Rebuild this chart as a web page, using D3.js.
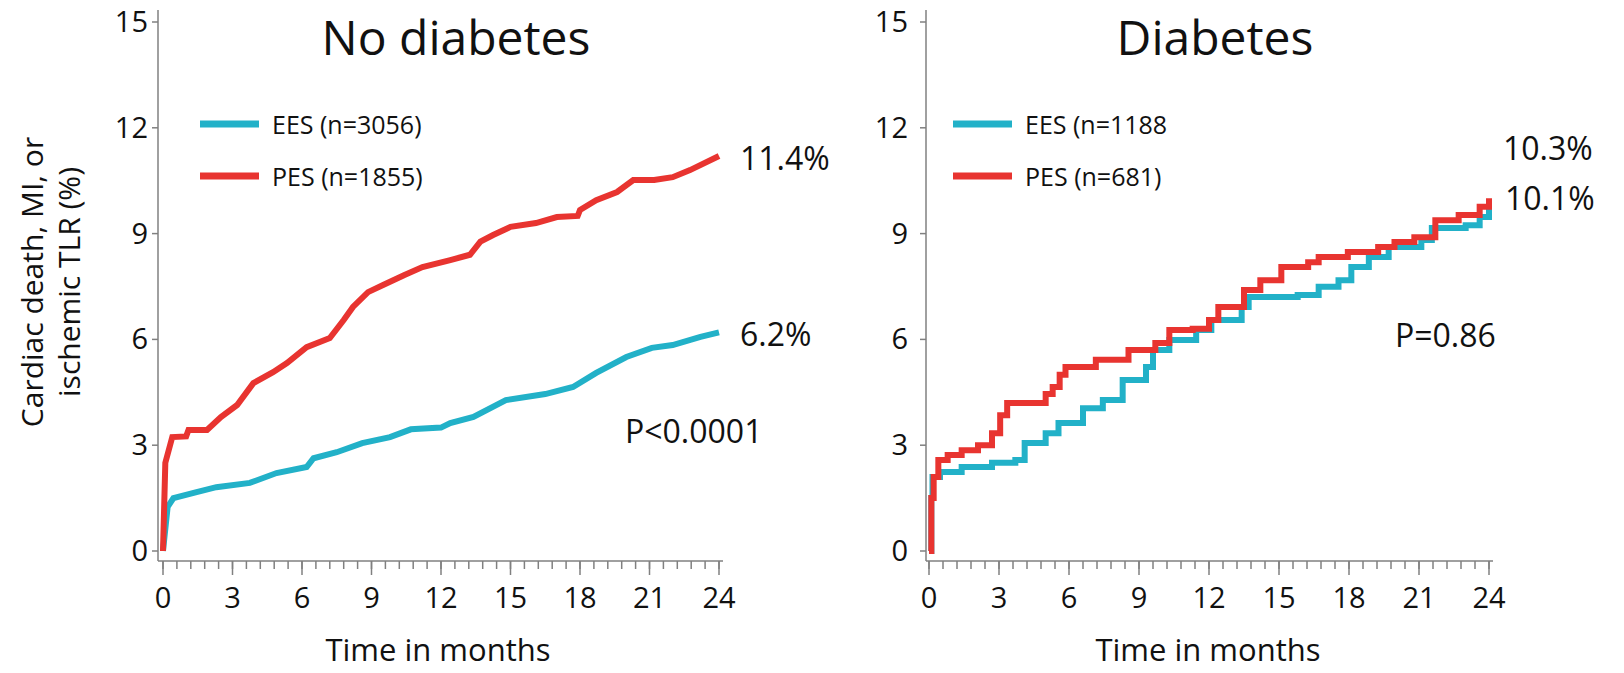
<!DOCTYPE html>
<html>
<head>
<meta charset="utf-8">
<script src="https://cdn.jsdelivr.net/npm/d3@7"></script>
<style>
  body { margin: 0; background: #fff; }
  svg text { font-family: "Open Sans", sans-serif; fill: #111; }
  .axis-line { stroke: #808080; stroke-width: 1.5; }
</style>
</head>
<body>
<svg id="chart" width="1624" height="673"></svg>
<script>
// tick values
const yTicks = [0, 3, 6, 9, 12, 15];
const xTicks = [0, 3, 6, 9, 12, 15, 18, 21, 24];
const xMinorTicks = d3.range(0, 24.01, 0.6);

// No diabetes, EES
const noDmEesTime = [0, 0.2, 0.45, 1.45, 2.3, 3.75, 4.9, 6.2, 6.5, 7.5, 8.6, 9.8, 10.7, 12.0, 12.4, 13.4, 14.8, 16.5, 17.7, 18.7, 20.0, 21.1, 22.0, 23.2, 24.0];
const noDmEesRate = [0, 1.25, 1.5, 1.67, 1.81, 1.93, 2.21, 2.38, 2.63, 2.8, 3.06, 3.23, 3.45, 3.5, 3.63, 3.8, 4.28, 4.45, 4.65, 5.05, 5.5, 5.76, 5.84, 6.07, 6.2];
// No diabetes, PES
const noDmPesTime = [0, 0.1, 0.4, 1.0, 1.1, 1.9, 2.5, 3.2, 3.9, 4.75, 5.35, 6.2, 7.2, 7.8, 8.2, 8.85, 9.5, 10.4, 11.2, 12.4, 13.25, 13.7, 14.25, 15.0, 16.1, 17.0, 17.9, 18.0, 18.7, 19.6, 20.3, 21.2, 22.0, 22.75, 24.0];
const noDmPesRate = [0, 2.5, 3.23, 3.25, 3.43, 3.43, 3.8, 4.14, 4.76, 5.07, 5.33, 5.78, 6.04, 6.55, 6.92, 7.34, 7.54, 7.82, 8.05, 8.25, 8.4, 8.77, 8.96, 9.19, 9.3, 9.47, 9.5, 9.67, 9.95, 10.18, 10.52, 10.52, 10.6, 10.8, 11.2];
// Diabetes, EES
const dmEesTime = [0, 0.1, 0.15, 0.47, 1.4, 2.7, 3.7, 4.1, 5.0, 5.55, 6.6, 7.45, 8.3, 9.3, 9.6, 10.3, 11.45, 12.1, 13.4, 13.7, 15.8, 16.7, 17.55, 18.1, 18.85, 19.7, 21.1, 21.55, 23.0, 23.6, 24.0];
const dmEesRate = [0, 1.5, 2.1, 2.24, 2.38, 2.5, 2.58, 3.06, 3.34, 3.63, 4.05, 4.28, 4.85, 5.22, 5.7, 5.98, 6.27, 6.55, 6.92, 7.2, 7.26, 7.49, 7.68, 8.05, 8.34, 8.62, 8.82, 9.16, 9.24, 9.47, 9.87];
// Diabetes, PES
const dmPesTime = [0, 0.1, 0.2, 0.4, 0.8, 1.4, 2.1, 2.7, 3.05, 3.35, 5.0, 5.3, 5.6, 5.85, 7.15, 8.55, 9.7, 10.3, 11.3, 12.0, 12.4, 13.5, 14.2, 15.1, 16.25, 16.7, 17.95, 19.25, 19.95, 20.8, 21.7, 22.7, 23.6, 24.0];
const dmPesRate = [0, 1.5, 2.1, 2.58, 2.72, 2.86, 3.0, 3.34, 3.85, 4.2, 4.45, 4.65, 5.0, 5.22, 5.42, 5.7, 5.9, 6.27, 6.3, 6.55, 6.92, 7.4, 7.68, 8.05, 8.19, 8.34, 8.48, 8.62, 8.76, 8.9, 9.38, 9.53, 9.76, 10.0];

const eesColor = '#22b1c8';
const pesColor = '#e83430';

const panels = [
    {
        title: 'No diabetes', titleX: 456,
        axisX: 158, x0: 163, x1: 719, tickLabelX: 148,
        legendX: 200, legendText: ['EES (n=3056)', 'PES (n=1855)'],
        ees: [noDmEesTime, noDmEesRate], pes: [noDmPesTime, noDmPesRate],
        curve: d3.curveLinear,
        notes: [
            { text: '11.4%', x: 740, y: 170 },
            { text: '6.2%', x: 740, y: 346 },
            { text: 'P<0.0001', x: 625, y: 443 }
        ],
        xTitleX: 438
    },
    {
        title: 'Diabetes', titleX: 1215,
        axisX: 926, x0: 929, x1: 1489, tickLabelX: 908,
        legendX: 953, legendText: ['EES (n=1188', 'PES (n=681)'],
        ees: [dmEesTime, dmEesRate], pes: [dmPesTime, dmPesRate],
        curve: d3.curveStepAfter,
        notes: [
            { text: '10.3%', x: 1503, y: 160 },
            { text: '10.1%', x: 1505, y: 210 },
            { text: 'P=0.86', x: 1395, y: 347 }
        ],
        xTitleX: 1208
    }
];

const svg = d3.select('#chart');
const yBase = 561;

let yScale = d3.scaleLinear().domain([0, 15]).range([551, 22]);

function drawPanel(p) {
    let g = svg.append('g');
    let xScale = d3.scaleLinear().domain([0, 24]).range([p.x0, p.x1]);

    // axes lines
    g.append('line').classed('axis-line', true)
        .attr('x1', p.axisX).attr('x2', p.axisX)
        .attr('y1', 10).attr('y2', yBase);
    g.append('line').classed('axis-line', true)
        .attr('x1', p.axisX).attr('x2', p.x1 + 4)
        .attr('y1', yBase).attr('y2', yBase);

    // y ticks
    g.selectAll('.ytick').data(yTicks).enter().append('line')
        .classed('axis-line', true)
        .attr('x1', p.axisX - 6).attr('x2', p.axisX)
        .attr('y1', d => yScale(d)).attr('y2', d => yScale(d));
    g.selectAll('.ylab').data(yTicks).enter().append('text')
        .attr('x', p.tickLabelX).attr('y', d => yScale(d) + 10)
        .attr('text-anchor', 'end')
        .style('font-size', '29px')
        .text(d => d);

    // x ticks, minor every 0.6 month and major every 3
    g.selectAll('.xminor').data(xMinorTicks).enter().append('line')
        .classed('axis-line', true)
        .attr('x1', d => xScale(d)).attr('x2', d => xScale(d))
        .attr('y1', yBase).attr('y2', yBase + 8);
    g.selectAll('.xmajor').data(xTicks).enter().append('line')
        .classed('axis-line', true)
        .attr('x1', d => xScale(d)).attr('x2', d => xScale(d))
        .attr('y1', yBase).attr('y2', yBase + 14);
    g.selectAll('.xlab').data(xTicks).enter().append('text')
        .attr('x', d => xScale(d)).attr('y', 608)
        .attr('text-anchor', 'middle')
        .style('font-size', '29px')
        .text(d => d);

    g.append('text')
        .attr('x', p.xTitleX).attr('y', 661)
        .attr('text-anchor', 'middle')
        .style('font-size', '31px')
        .text('Time in months');

    // title
    g.append('text')
        .attr('x', p.titleX).attr('y', 55)
        .attr('text-anchor', 'middle')
        .style('font-size', '48px')
        .text(p.title);

    // curves
    let line = d3.line()
        .x(d => xScale(d[0]))
        .y(d => yScale(d[1]))
        .curve(p.curve);
    [[p.ees, eesColor], [p.pes, pesColor]].forEach(([s, color]) => {
        let pts = s[0].map((t, i) => [t, s[1][i]]);
        g.append('path')
            .datum(pts)
            .attr('d', line)
            .attr('fill', 'none')
            .attr('stroke', color)
            .attr('stroke-width', 6)
            .attr('stroke-linejoin', 'miter');
    });

    // legend
    [eesColor, pesColor].forEach((color, i) => {
        let ly = 124 + i * 52;
        g.append('line')
            .attr('x1', p.legendX).attr('x2', p.legendX + 59)
            .attr('y1', ly).attr('y2', ly)
            .attr('stroke', color).attr('stroke-width', 7);
        g.append('text')
            .attr('x', p.legendX + 72).attr('y', ly + 10)
            .style('font-size', '25px')
            .text(p.legendText[i]);
    });

    // end labels and p value
    p.notes.forEach(n => {
        g.append('text')
            .attr('x', n.x).attr('y', n.y)
            .style('font-size', '32px')
            .text(n.text);
    });
}

panels.forEach(drawPanel);

// y axis title, two lines
let yTitle = svg.append('text')
    .attr('transform', 'translate(0, 282) rotate(-90)')
    .attr('text-anchor', 'middle')
    .style('font-size', '30px');
yTitle.append('tspan').attr('x', 0).attr('y', 43).text('Cardiac death, MI, or');
yTitle.append('tspan').attr('x', 0).attr('y', 80).text('ischemic TLR (%)');
</script>
</body>
</html>
